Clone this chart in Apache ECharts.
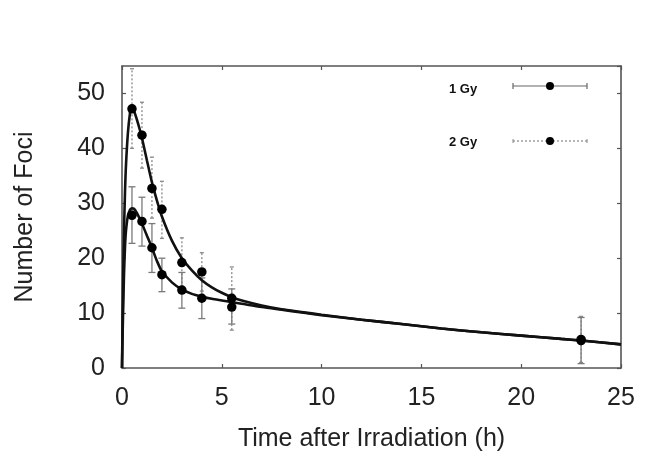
<!DOCTYPE html>
<html>
<head>
<meta charset="utf-8">
<script src="https://cdn.jsdelivr.net/npm/echarts@6/dist/echarts.min.js"></script>
<style>html,body{margin:0;padding:0;background:#fff}#c{width:653px;height:466px}</style>
</head>
<body>
<div id="c"></div>
<script>
// Measured time points (h)
var timePts = [0.5, 1, 1.5, 2, 3, 4, 5.5, 23];
// 1 Gy mean foci and error limits
var gy1Mean = [27.8, 26.7, 21.9, 17.0, 14.2, 12.7, 11.1, 5.0];
var gy1Low  = [22.7, 22.2, 17.4, 13.9, 10.9, 9.0, 8.0, 0.8];
var gy1High = [33.0, 31.1, 26.3, 20.0, 17.4, 16.4, 14.4, 9.2];
// 2 Gy mean foci and error limits
var gy2Mean = [47.2, 42.4, 32.7, 28.9, 19.2, 17.5, 12.7, 5.2];
var gy2Low  = [40.0, 36.4, 27.3, 23.6, 14.7, 14.0, 6.9, 1.0];
var gy2High = [54.5, 48.4, 38.4, 34.0, 23.7, 21.0, 18.4, 9.4];
// Fitted curves
var fitT   = [0, 0.03, 0.06, 0.1, 0.15, 0.2, 0.3, 0.4, 0.45, 0.5, 0.6, 0.75, 0.9, 1.0, 1.25, 1.5, 1.75, 2.0, 2.5, 3, 3.5, 4, 4.5, 5, 5.5, 6, 7, 8, 9, 10, 12, 14, 16, 18, 20, 22, 23, 25];
var fit1Gy = [0, 6, 11, 17, 22, 25, 27.8, 28.8, 29.0, 29.1, 29.0, 28.2, 27.1, 26.3, 24.1, 21.9, 19.5, 17.6, 15.6, 14.3, 13.5, 13.0, 12.6, 12.3, 12.0, 11.7, 11.1, 10.6, 10.1, 9.6, 8.8, 8.0, 7.2, 6.5, 5.9, 5.3, 5.0, 4.3];
var fit2Gy = [0, 9, 17, 25, 32, 37, 43, 46.4, 47.2, 47.3, 46.8, 45.2, 43.3, 41.9, 37.8, 33.8, 30.5, 27.6, 23.2, 20.0, 17.8, 16.0, 14.7, 13.7, 12.9, 12.3, 11.4, 10.7, 10.2, 9.7, 8.8, 8.0, 7.2, 6.5, 5.9, 5.3, 5.0, 4.3];
var xTicks = [0, 5, 10, 15, 20, 25];
var yTicks = [0, 10, 20, 30, 40, 50];

var FONT = '"Liberation Sans", Arial, sans-serif';
var AX = '#555';

function zip3(a, b, c) { return a.map(function (v, i) { return [v, b[i], c[i]]; }); }
function zip2(a, b) { return a.map(function (v, i) { return [v, b[i]]; }); }

function errRender(dashed, color) {
  return function (params, api) {
    var x = api.value(0), lo = api.value(1), hi = api.value(2);
    var p1 = api.coord([x, lo]), p2 = api.coord([x, hi]);
    var w = dashed ? 2 : 3.5;
    var st = { stroke: color, lineWidth: 1.3, lineDash: dashed ? [2, 2] : null };
    return {
      type: 'group',
      children: [
        { type: 'line', shape: { x1: p1[0], y1: p1[1], x2: p2[0], y2: p2[1] }, style: st },
        { type: 'line', shape: { x1: p1[0] - w, y1: p1[1], x2: p1[0] + w, y2: p1[1] }, style: { stroke: color, lineWidth: 1.3 } },
        { type: 'line', shape: { x1: p2[0] - w, y1: p2[1], x2: p2[0] + w, y2: p2[1] }, style: { stroke: color, lineWidth: 1.3 } }
      ]
    };
  };
}

function axisBase(extra) {
  var o = {
    type: 'value',
    axisLine: { show: true, onZero: false, lineStyle: { color: AX, width: 1.6 } },
    axisTick: { show: true, inside: true, length: 4, lineStyle: { color: AX, width: 1.2 } },
    splitLine: { show: false }
  };
  for (var k in extra) o[k] = extra[k];
  return o;
}

var chart = echarts.init(document.getElementById('c'), null, { renderer: 'canvas' });
chart.setOption({
  animation: false,
  backgroundColor: '#fff',
  grid: { left: 122, right: 32, top: 66, bottom: 98 },
  xAxis: [
    axisBase({
      min: xTicks[0], max: xTicks[xTicks.length - 1], interval: 5,
      axisLabel: { fontSize: 25, color: '#222', margin: 18, fontFamily: FONT },
      name: 'Time after Irradiation (h)', nameLocation: 'middle', nameGap: 59,
      nameTextStyle: { fontSize: 25, color: '#222', fontFamily: FONT }
    }),
    axisBase({
      position: 'top', min: xTicks[0], max: xTicks[xTicks.length - 1], interval: 5,
      axisLabel: { show: false }
    })
  ],
  yAxis: [
    axisBase({
      min: 0, max: 55, interval: 10,
      axisLabel: {
        fontSize: 25, color: '#222', margin: 17, fontFamily: FONT, showMaxLabel: false,
        formatter: function (v) { return yTicks.indexOf(v) >= 0 ? String(v) : ''; }
      },
      name: 'Number of Foci', nameLocation: 'middle', nameGap: 84,
      nameTextStyle: { fontSize: 25, color: '#222', fontFamily: FONT }
    }),
    axisBase({
      position: 'right', min: 0, max: 55, interval: 10,
      axisLabel: { show: false }
    })
  ],
  series: [
    {
      type: 'custom', name: '2 Gy err', z: 1,
      renderItem: errRender(true, '#8a8a8a'),
      encode: { x: 0, y: [1, 2] },
      data: zip3(timePts, gy2Low, gy2High)
    },
    {
      type: 'custom', name: '1 Gy err', z: 1,
      renderItem: errRender(false, '#7a7a7a'),
      encode: { x: 0, y: [1, 2] },
      data: zip3(timePts, gy1Low, gy1High)
    },
    {
      type: 'line', name: '2 Gy fit', z: 2, showSymbol: false, smooth: 0.25,
      lineStyle: { color: '#111', width: 2.6 },
      data: zip2(fitT, fit2Gy)
    },
    {
      type: 'line', name: '1 Gy fit', z: 2, showSymbol: false, smooth: 0.25,
      lineStyle: { color: '#111', width: 2.6 },
      data: zip2(fitT, fit1Gy)
    },
    {
      type: 'scatter', name: '2 Gy', z: 3, symbolSize: 9.5,
      itemStyle: { color: '#000', opacity: 1 },
      data: zip2(timePts, gy2Mean)
    },
    {
      type: 'scatter', name: '1 Gy', z: 3, symbolSize: 9.5,
      itemStyle: { color: '#000', opacity: 1 },
      data: zip2(timePts, gy1Mean)
    }
  ],
  graphic: [
    { type: 'text', x: 449, y: 89, style: { text: '1 Gy', fill: '#111', font: 'bold 13px ' + FONT, textVerticalAlign: 'middle', verticalAlign: 'middle' } },
    { type: 'line', shape: { x1: 513, y1: 86, x2: 587, y2: 86 }, style: { stroke: '#666', lineWidth: 1.2 } },
    { type: 'line', shape: { x1: 513, y1: 83, x2: 513, y2: 89 }, style: { stroke: '#666', lineWidth: 1.2 } },
    { type: 'line', shape: { x1: 587, y1: 83, x2: 587, y2: 89 }, style: { stroke: '#666', lineWidth: 1.2 } },
    { type: 'circle', shape: { cx: 550, cy: 86, r: 4 }, style: { fill: '#000' } },
    { type: 'text', x: 449, y: 142, style: { text: '2 Gy', fill: '#111', font: 'bold 13px ' + FONT, textVerticalAlign: 'middle', verticalAlign: 'middle' } },
    { type: 'line', shape: { x1: 513, y1: 141, x2: 587, y2: 141 }, style: { stroke: '#888', lineWidth: 1.2, lineDash: [2, 2] } },
    { type: 'line', shape: { x1: 513, y1: 139, x2: 513, y2: 143 }, style: { stroke: '#888', lineWidth: 1 } },
    { type: 'line', shape: { x1: 587, y1: 139, x2: 587, y2: 143 }, style: { stroke: '#888', lineWidth: 1 } },
    { type: 'circle', shape: { cx: 550, cy: 141, r: 4 }, style: { fill: '#000' } }
  ]
});
</script>
</body>
</html>
